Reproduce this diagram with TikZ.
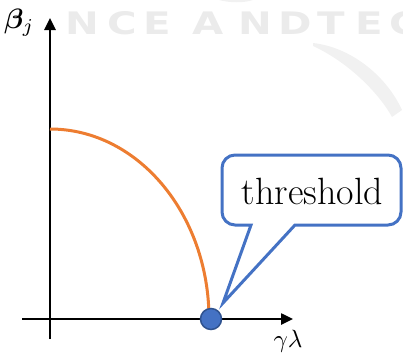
\documentclass[tikz,border=0pt]{standalone}
\usepackage{amsmath,bm}
\usepackage{fontspec}
\newfontfamily\wmfont{DejaVu Sans}
\usetikzlibrary{arrows.meta}
\definecolor{curveorange}{HTML}{ED7D31}
\definecolor{accblue}{HTML}{4472C4}
\definecolor{darkblue}{HTML}{2F528F}
\definecolor{wmgray}{HTML}{EBEBEB}
\definecolor{wmlight}{HTML}{F1F1F1}
\tikzset{
  wm/.style={inner sep=0pt, text=wmgray, font=\wmfont\bfseries\fontsize{31}{31}\selectfont},
  axis/.style={line width=2.5pt, black, -{Triangle[length=12pt,width=11pt]}},
  curve/.style={line width=3pt, curveorange},
  callout/.style={line width=3pt, draw=accblue, fill=white, line join=miter},
  dot/.style={circle, minimum size=21pt, inner sep=0pt, fill=accblue, draw=darkblue, line width=1.5pt},
  lbl/.style={inner sep=0pt, font=\fontsize{38}{42}\selectfont},
  mlbl/.style={inner sep=0pt}
}
\begin{document}
\begin{tikzpicture}[x=1pt,y=-1pt]
\useasboundingbox (0,0) rectangle (403,354);
% faint watermark
\begin{scope}
\clip (0,0) rectangle (403,354);
\foreach \ch/\cx [count=\i] in {N/82.5, C/122.5, E/157, A/208.5, N/255, D/295, T/331.5, E/369, C/404}
  \node[wm] (wm\i) at (\cx,23.5) {\scalebox{1.3}[1]{\ch}};
\fill[wmlight] (313,43) .. controls (350,47) and (386,75) .. (402,110) -- (392,117) .. controls (380,95) and (350,63) .. (313,46) -- cycle;
\fill[wmlight] (219,0) .. controls (230,3) and (244,3) .. (253,0) -- cycle;
\end{scope}
% axes
\coordinate (yb) at (50,339);
\coordinate (yt) at (50,18);
\coordinate (xl) at (22,319);
\coordinate (xr) at (293,319);
\draw[axis] (yb) -- (yt);
\draw[axis] (xl) -- (xr);
% orange curve
\coordinate (ctop) at (50,129);
\coordinate (cend) at (209,319);
\draw[curve] (ctop) .. controls (137.8,129) and (209,214.1) .. (cend);
% callout
\coordinate (tip) at (223,303);
\draw[callout] (222,190) [rounded corners=13pt] -- (222,155) -- (401,155) -- (401,225) [sharp corners] -- (295,225) -- (tip) -- (251,225) [rounded corners=13pt] -- (222,225) -- cycle;
\node[lbl, anchor=base] (thr) at (312.5,204) {threshold};
% threshold dot
\node[dot] (th) at (211,319) {};
% axis labels
\node[mlbl, anchor=base west] (beta) at (4,28) {\scalebox{2.8}{$\bm{\beta}_j$}};
\node[mlbl, anchor=base] (gl) at (288,347) {\scalebox{2.5}{$\gamma\lambda$}};
\end{tikzpicture}
\end{document}
